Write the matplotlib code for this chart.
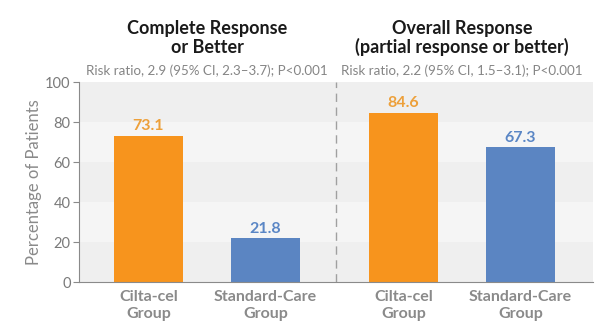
import matplotlib
matplotlib.use("Agg")
import matplotlib.pyplot as plt

categories = ["Cilta-cel\nGroup", "Standard-Care\nGroup", "Cilta-cel\nGroup", "Standard-Care\nGroup"]
values = [73.1, 21.8, 84.6, 67.3]
panel_titles = ["Complete Response\nor Better", "Overall Response\n(partial response or better)"]
risk_texts = ["Risk ratio, 2.9 (95% CI, 2.3\u20133.7); P<0.001",
              "Risk ratio, 2.2 (95% CI, 1.5\u20133.1); P<0.001"]
yticks = [0, 20, 40, 60, 80, 100]

plt.rcParams['font.family'] = ['Lato', 'DejaVu Sans']

orange = "#f7941d"
blue = "#5b85c2"
grey_text = "#7a7a7a"

fig = plt.figure(figsize=(6.06, 3.35), dpi=100)
W, H = 606, 335
ax = fig.add_axes([79 / W, (H - 282) / H, (593 - 79) / W, 200 / H])

pos = [0, 1, 2.18, 3.18]
colors = [orange, blue, orange, blue]
label_colors = ["#eda03a", "#5a86c5", "#eda03a", "#5a86c5"]
ax.set_xlim(-0.594, 3.80)
ax.set_ylim(0, 100)

# background bands
for i in range(5):
    c = "#efefef" if i % 2 == 0 else "#f5f5f5"
    ax.axhspan(i * 20, (i + 1) * 20, color=c, zorder=0, lw=0)

ax.bar(pos, values, width=0.59, color=colors, zorder=2)
for p, v, lc in zip(pos, values, label_colors):
    ax.text(p, v + 1.2, f"{v}", ha="center", va="bottom", fontsize=11.5,
            fontweight="bold", color=lc, zorder=3)

ax.axvline(1.603, color="#a0a0a0", lw=1, ls=(0, (6, 4)), zorder=1)

ax.set_yticks(yticks)
ax.set_yticklabels([str(t) for t in yticks], fontsize=10.5, color=grey_text)
ax.set_xticks(pos)
ax.set_xticklabels(categories, fontsize=11.5, fontweight="bold", color="#8a8a8a",
                   linespacing=1.2)
ax.tick_params(axis="x", length=0, pad=6)
ax.tick_params(axis="y", length=4, color="#8a8a8a", pad=2)
for s in ["top", "right"]:
    ax.spines[s].set_visible(False)
ax.spines["left"].set_color("#8a8a8a")
ax.spines["bottom"].set_color("#8a8a8a")
ax.set_ylabel("Percentage of Patients", fontsize=12, color="#8a8a8a", labelpad=2)

title_x = [(0 + 1) / 2, (2.18 + 3.18) / 2]
for tx, t, r in zip(title_x, panel_titles, risk_texts):
    xf = ax.transData.transform((tx, 0))[0] / W
    fig.text(xf, (H - 38) / H, t, ha="center", va="center", fontsize=13,
             fontweight="bold", color="#1a1a1a", linespacing=1.1)
    fig.text(xf, (H - 71) / H, r, ha="center", va="center", fontsize=9.6,
             color="#858585")

fig.savefig("out.png", dpi=100, facecolor="white")
